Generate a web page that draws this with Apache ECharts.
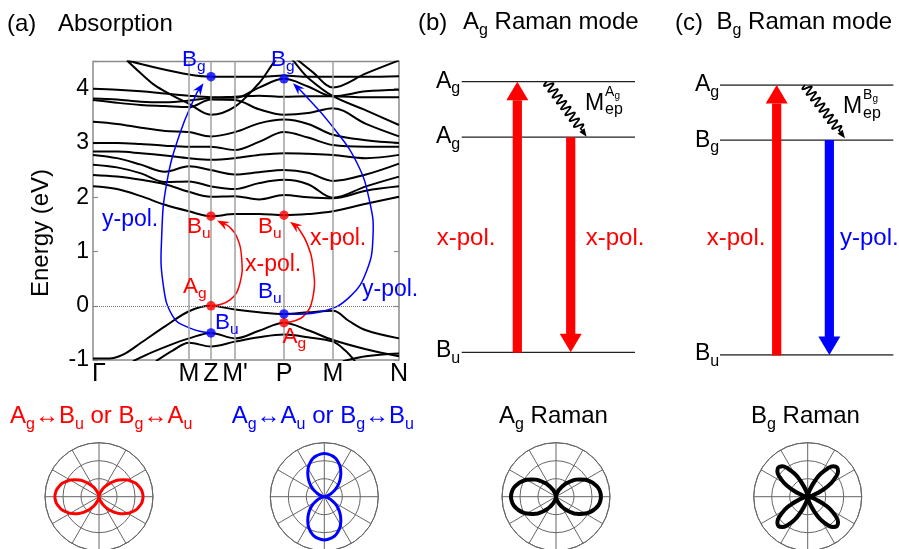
<!DOCTYPE html>
<html><head><meta charset="utf-8">
<script src="https://cdn.jsdelivr.net/npm/echarts@6/dist/echarts.min.js"></script>
<style>html,body{margin:0;padding:0;background:#fff}#c{width:899px;height:549px}</style>
</head><body><div id="c"></div>
<script>
const FONT = '"Liberation Sans", Arial, "DejaVu Sans", sans-serif';
const RED = '#ff0000', BLUE = '#0000ff';

// ---- (a) band structure : k-path ----
const kPoints = [0, 96, 118, 142, 191, 240, 306];
const kLabels = ['Γ', 'M', 'Z', "M'", 'P', 'M', 'N'];
const energyTicks = [-1, 0, 1, 2, 3, 4];

// valence bands [k, E(eV)]
const bandV1 = [[0,-0.97],[16,-0.97],[30,-0.9],[48,-0.68],[72,-0.38],[96,-0.1],[118,0],[142,-0.07],[166,-0.12],[191,-0.15],[215,-0.12],[240,-0.09],[256,-0.28],[273,-0.45],[306,-0.6]];
const bandV2 = [[40,-1.02],[60,-0.85],[80,-0.7],[96,-0.6],[118,-0.5],[142,-0.6],[166,-0.46],[191,-0.31],[215,-0.45],[240,-0.63],[273,-0.8],[306,-0.93]];
const bandV3 = [[63,-1.02],[80,-0.82],[96,-0.68],[118,-0.75],[142,-0.66],[166,-0.58],[191,-0.53],[215,-0.58],[240,-0.66],[252,-0.82],[262,-1.02]];
const bandV4 = [[250,-1.02],[273,-0.93],[306,-0.88]];
// conduction bands
const bandC1 = [[0,2.2],[24,2.15],[48,2.02],[72,1.86],[96,1.74],[118,1.65],[142,1.69],[166,1.69],[191,1.67],[215,1.69],[240,1.74],[273,1.88],[306,2.01]];
const bandC2 = [[0,2.41],[24,2.38],[48,2.32],[72,2.24],[96,2.1],[118,2.01],[142,2.02],[166,1.96],[191,2.04],[215,2.0],[240,1.98],[273,2.12],[306,2.2]];
const bandC3 = [[0,2.6],[24,2.55],[48,2.44],[72,2.28],[96,2.29],[118,2.2],[142,2.15],[166,2.26],[191,2.32],[215,2.24],[240,1.99],[273,2.2],[306,2.38]];
const bandC4 = [[0,2.78],[24,2.72],[48,2.6],[72,2.47],[96,2.57],[118,2.5],[142,2.42],[166,2.46],[191,2.5],[215,2.45],[240,2.3],[273,2.42],[306,2.62]];
const bandC5 = [[0,2.84],[24,2.84],[48,2.81],[72,2.77],[96,2.72],[118,2.69],[142,2.72],[166,2.78],[191,2.81],[215,2.8],[240,2.78],[273,2.72],[306,2.78]];
const bandC6 = [[0,3.0],[24,3.0],[48,2.98],[72,2.95],[96,2.93],[118,2.93],[142,2.87],[166,3.02],[191,3.2],[215,3.1],[240,2.96],[273,2.93],[306,2.93]];
const bandC7 = [[0,3.39],[24,3.35],[48,3.28],[72,3.22],[96,3.2],[118,3.12],[142,3.2],[166,3.36],[191,3.43],[215,3.35],[240,3.15],[273,3.05],[306,3.0]];
const bandC8 = [[0,3.79],[24,3.74],[48,3.7],[72,3.68],[96,3.66],[118,3.8],[142,3.79],[166,3.62],[191,3.52],[215,3.55],[240,3.64],[273,3.35],[306,3.12]];
const bandC9 = [[0,3.82],[24,3.8],[48,3.76],[72,3.75],[96,3.78],[118,3.83],[142,3.85],[166,3.87],[191,3.85],[215,3.86],[240,3.86],[273,3.84],[306,3.84]];
const bandC10 = [[0,4.0],[24,3.98],[48,3.95],[72,3.91],[96,3.87],[118,3.84],[142,3.83],[166,4.02],[191,4.18],[215,4.04],[240,3.86],[273,3.95],[306,3.98]];
const bandC11 = [[34,4.52],[48,4.28],[62,4.06],[77,3.9],[96,3.72],[118,3.52],[142,3.67],[166,4.1],[191,4.62],[215,4.2],[240,3.86],[273,3.6],[306,3.33]];
const bandC12 = [[34,4.52],[60,4.4],[96,4.26],[118,4.22],[142,4.22],[166,4.22],[191,4.24],[215,4.22],[240,4.22],[273,4.22],[306,4.23]];
const bandC13 = [[200,4.6],[220,4.3],[240,4.02],[273,4.28],[306,4.52]];
const bandList = [bandV1,bandV2,bandV3,bandV4,bandC1,bandC2,bandC3,bandC4,bandC5,bandC6,bandC7,bandC8,bandC9,bandC10,bandC11,bandC12,bandC13];

// marked states
const redStates = [[118,0],[118,1.65],[191,1.67],[191,-0.31]];
const blueStates = [[118,-0.5],[118,4.22],[191,4.18],[191,-0.15]];

// transition arrows (k, E)
const arrowRedZ = [[118,0],[137,0.11],[147,0.42],[148.5,0.91],[143.5,1.28],[136,1.46],[124,1.57]];
const arrowRedP = [[191,-0.31],[210,-0.2],[220,0.17],[220,0.72],[214,1.15],[205,1.44],[197,1.55]];
const arrowBlueZ = [[118,-0.5],[97,-0.41],[80,-0.2],[70,0.42],[68.7,1.28],[73.7,2.26],[87,3.18],[103.7,3.92],[110.5,4.1]];
const arrowBlueP = [[191,-0.15],[230,-0.1],[257,0.17],[274,0.66],[280,1.28],[277,1.89],[264,2.63],[237,3.36],[210,3.92],[200,4.1]];

// ---- (b),(c) level diagrams (relative energy) ----
const levelsB = [0, 0.795, 1];
const levelsC = [0, 0.796, 1];
const excitB = [0.321, 0, 1];
const emitB = [0.629, 0.795, 0];
const excitC = [0.327, 0, 1];
const emitC = [0.631, 0.796, 0];
const phononB = [0.49, 1, 0.721, 0.797];
const phononC = [0.49, 1, 0.721, 0.803];

// ---- polar patterns ----
const polarAngles = [0,5,10,15,20,25,30,35,40,45,50,55,60,65,70,75,80,85,90,95,100,105,110,115,120,125,130,135,140,145,150,155,160,165,170,175,180,185,190,195,200,205,210,215,220,225,230,235,240,245,250,255,260,265,270,275,280,285,290,295,300,305,310,315,320,325,330,335,340,345,350,355,360];
const polarRed = [0.98,0.97,0.95,0.91,0.87,0.80,0.74,0.66,0.58,0.49,0.40,0.32,0.25,0.18,0.11,0.07,0.03,0.01,0,
 0.01,0.03,0.07,0.11,0.18,0.25,0.32,0.40,0.49,0.58,0.66,0.74,0.80,0.87,0.91,0.95,0.97,0.98,
 0.97,0.95,0.91,0.87,0.80,0.74,0.66,0.58,0.49,0.40,0.32,0.25,0.18,0.11,0.07,0.03,0.01,0,
 0.01,0.03,0.07,0.11,0.18,0.25,0.32,0.40,0.49,0.58,0.66,0.74,0.80,0.87,0.91,0.95,0.97,0.98];
const polarBlue = [0,0.01,0.03,0.06,0.11,0.17,0.24,0.32,0.40,0.48,0.56,0.64,0.72,0.79,0.85,0.90,0.93,0.95,0.96,
 0.95,0.93,0.90,0.85,0.79,0.72,0.64,0.56,0.48,0.40,0.32,0.24,0.17,0.11,0.06,0.03,0.01,0,
 0.01,0.03,0.06,0.11,0.17,0.24,0.32,0.40,0.48,0.56,0.64,0.72,0.79,0.85,0.90,0.93,0.95,0.96,
 0.95,0.93,0.90,0.85,0.79,0.72,0.64,0.56,0.48,0.40,0.32,0.24,0.17,0.11,0.06,0.03,0.01,0];
const polarAg = [1,0.99,0.97,0.93,0.88,0.82,0.75,0.67,0.59,0.50,0.41,0.33,0.25,0.18,0.12,0.07,0.03,0.01,0,
 0.01,0.03,0.07,0.12,0.18,0.25,0.33,0.41,0.50,0.59,0.67,0.75,0.82,0.88,0.93,0.97,0.99,1,
 0.99,0.97,0.93,0.88,0.82,0.75,0.67,0.59,0.50,0.41,0.33,0.25,0.18,0.12,0.07,0.03,0.01,0,
 0.01,0.03,0.07,0.12,0.18,0.25,0.33,0.41,0.50,0.59,0.67,0.75,0.82,0.88,0.93,0.97,0.99,1];
const polarBg = [0,0.005,0.04,0.12,0.24,0.41,0.6,0.76,0.88,0.92,0.88,0.76,0.6,0.41,0.24,0.12,0.04,0.005,0,
 0.005,0.04,0.12,0.24,0.41,0.6,0.76,0.88,0.92,0.88,0.76,0.6,0.41,0.24,0.12,0.04,0.005,0,
 0.005,0.04,0.12,0.24,0.41,0.6,0.76,0.88,0.92,0.88,0.76,0.6,0.41,0.24,0.12,0.04,0.005,0,
 0.005,0.04,0.12,0.24,0.41,0.6,0.76,0.88,0.92,0.88,0.76,0.6,0.41,0.24,0.12,0.04,0.005,0];

// ---------------- helpers ----------------
const mctx = document.createElement('canvas').getContext('2d');
function tw(t, fs) { mctx.font = fs + 'px ' + FONT; return mctx.measureText(t).width; }
function txt(x, base, t, color, fs) {
  return {type:'text', silent:true, x:x, y: base - 0.35*fs, z:10,
    style:{text:t, fill:color, font: fs+'px '+FONT, align:'left', verticalAlign:'middle', textAlign:'left', textVerticalAlign:'middle'}};
}
// '_x' marks a one-character subscript
function label(x, base, s, color, fs, subFs, subDy) {
  subFs = subFs || Math.round(fs*0.68); subDy = (subDy === undefined) ? fs*0.2 : subDy;
  const els = []; let cx = x; let buf = '';
  const flush = () => { if (buf) { els.push(txt(cx, base, buf, color, fs)); cx += tw(buf, fs); buf = ''; } };
  for (let i = 0; i < s.length; i++) {
    if (s[i] === '_' && i+1 < s.length) { flush(); const c = s[i+1]; els.push(txt(cx, base+subDy, c, color, subFs)); cx += tw(c, subFs); i++; }
    else buf += s[i];
  }
  flush();
  return els;
}

function curveArrow(pts, color) {
  return function (params, api) {
    const p = pts.map(d => api.coord(d));
    const n = p.length, tip = p[n-1], prev = p[n-2];
    let dx = tip[0]-prev[0], dy = tip[1]-prev[1]; const L = Math.hypot(dx, dy); dx /= L; dy /= L;
    const len = 12, hw = 4.5, notch = 8, nx = -dy, ny = dx;
    const base = [tip[0]-dx*len, tip[1]-dy*len];
    const nb = [tip[0]-dx*notch, tip[1]-dy*notch];
    const head = [tip, [base[0]+nx*hw, base[1]+ny*hw], nb, [base[0]-nx*hw, base[1]-ny*hw]];
    return {type:'group', children:[
      {type:'polyline', shape:{points: p.slice(0, n-1).concat([nb]), smooth:0.45}, style:{stroke:color, lineWidth:1.5, fill:null}},
      {type:'polygon', shape:{points: head}, style:{fill:color}}
    ]};
  };
}
function thickArrow(params, api) {
  const color = api.visual('color');
  const x = api.value(0), a = api.coord([x, api.value(1)]), b = api.coord([x, api.value(2)]);
  const dir = Math.sign(b[1]-a[1]);
  const sw = 4.6, hw = 11, hl = 18.5;
  const baseY = b[1] - dir*hl;
  return {type:'group', children:[
    {type:'rect', shape:{x:a[0]-sw, y:Math.min(a[1], baseY), width:2*sw, height:Math.abs(baseY-a[1])+0.5}, style:{fill:color}},
    {type:'polygon', shape:{points:[[b[0], b[1]], [b[0]-hw, baseY], [b[0]+hw, baseY]]}, style:{fill:color}}
  ]};
}
function wavyArrow(params, api) {
  const a = api.coord([api.value(0), api.value(1)]), b = api.coord([api.value(2), api.value(3)]);
  const dx = b[0]-a[0], dy = b[1]-a[1], L = Math.hypot(dx, dy), ux = dx/L, uy = dy/L, nx = -uy, ny = ux;
  const headLen = 8, hw = 3.2, waveLen = L - headLen - 2, periods = 8, amp = 4.5;
  const pts = [];
  for (let i = 0; i <= 240; i++) {
    const t = i/240*waveLen;
    const off = amp*Math.sin(2*Math.PI*periods*t/waveLen);
    pts.push([a[0]+ux*t+nx*off, a[1]+uy*t+ny*off]);
  }
  pts.push([b[0]-ux*headLen, b[1]-uy*headLen]);
  const bx = b[0]-ux*headLen, by = b[1]-uy*headLen;
  return {type:'group', children:[
    {type:'polyline', shape:{points:pts}, style:{stroke:'#000', lineWidth:1.8, fill:null}},
    {type:'polygon', shape:{points:[[b[0],b[1]],[bx+nx*hw,by+ny*hw],[bx-nx*hw,by-ny*hw]]}, style:{fill:'#000'}}
  ]};
}

// ---------------- series ----------------
const series = [];
bandList.forEach((d, i) => {
  const s = {type:'line', xAxisIndex:0, yAxisIndex:0, data:d, smooth:0.35, showSymbol:false, symbol:'none',
    lineStyle:{color:'#000', width:2}, z:2, silent:true, animation:false};
  if (i === 0) {
    s.markLine = {silent:true, symbol:['none','none'], label:{show:false}, animation:false,
      lineStyle:{color:'#a0a0a0', width:1.5, type:'solid'},
      data: kPoints.slice(1, -1).map(k => ({xAxis:k})).concat([{yAxis:0, lineStyle:{type:'dotted', color:'#777', width:1}}])};
  }
  series.push(s);
});
[[arrowRedZ, RED], [arrowRedP, RED], [arrowBlueZ, BLUE], [arrowBlueP, BLUE]].forEach(([pts, c]) => {
  series.push({type:'custom', xAxisIndex:0, yAxisIndex:0, data:[pts[0]], renderItem: curveArrow(pts, c), z:4, silent:true});
});
series.push({type:'scatter', xAxisIndex:0, yAxisIndex:0, data:redStates, symbolSize:9.5, itemStyle:{color:RED}, z:5, silent:true});
series.push({type:'scatter', xAxisIndex:0, yAxisIndex:0, data:blueStates, symbolSize:9.5, itemStyle:{color:BLUE}, z:5, silent:true});

// level diagrams
[[levelsB, 1, 2], [levelsC, 2, 3]].forEach(([lv, xi, yi]) => {
  lv.forEach(v => series.push({type:'line', xAxisIndex:xi, yAxisIndex:yi, data:[[0, v], [1, v]], showSymbol:false, symbol:'none',
    lineStyle:{color:'#222', width:1.3}, silent:true, z:2}));
});
[[excitB, 1, 2, RED], [emitB, 1, 2, RED], [excitC, 2, 3, RED], [emitC, 2, 3, BLUE]].forEach(([d, xi, yi, c]) => {
  series.push({type:'custom', xAxisIndex:xi, yAxisIndex:yi, data:[d], renderItem:thickArrow, itemStyle:{color:c}, z:3, silent:true});
});
[[phononB, 1, 2], [phononC, 2, 3]].forEach(([d, xi, yi]) => {
  series.push({type:'custom', xAxisIndex:xi, yAxisIndex:yi, data:[d], renderItem:wavyArrow, z:3, silent:true});
});

// polar patterns
const polarCenters = [[99, 496.7], [324.3, 496.7], [556, 496.7], [807.7, 496.7]];
[[polarRed, RED, 3], [polarBlue, BLUE, 3], [polarAg, '#000', 4], [polarBg, '#000', 4]].forEach(([r, c, w], i) => {
  series.push({type:'line', coordinateSystem:'polar', polarIndex:i, data: r.map((v, j) => [v, polarAngles[j]]),
    smooth:true, showSymbol:false, symbol:'none', lineStyle:{color:c, width:w}, z:3, silent:true});
});

// ---------------- texts ----------------
let g = [];
g = g.concat(label(7, 32.5, '(a)', '#000', 24));
g = g.concat(label(58, 33, 'Absorption', '#000', 24));
g = g.concat(label(418, 31.5, '(b)', '#000', 24));
g = g.concat(label(463, 31, 'A_g Raman mode', '#000', 24, 16, 5));
g = g.concat(label(675, 31.5, '(c)', '#000', 24));
g = g.concat(label(716.5, 31, 'B_g Raman mode', '#000', 24, 16, 5));
g.push({type:'text', silent:true, x:41, y:233, rotation:Math.PI/2,
  style:{text:'Energy (eV)', fill:'#000', font:'24px '+FONT, align:'center', verticalAlign:'middle', textAlign:'center', textVerticalAlign:'middle'}});
// band-plot labels
const stateFs = 22.5, stateSub = 15.5, stateDy = 4.5;
[[182, 68, 'B_g', BLUE], [271, 68, 'B_g', BLUE], [187, 235, 'B_u', RED], [258, 235, 'B_u', RED],
 [183, 294.5, 'A_g', RED], [258, 300, 'B_u', BLUE], [215, 330.5, 'B_u', BLUE], [282.5, 345, 'A_g', RED]].forEach(([x, y, s, c]) => {
  g = g.concat(label(x, y, s, c, stateFs, stateSub, stateDy));
});
[[245, 273, 'x-pol.', RED], [310, 247, 'x-pol.', RED], [362, 298, 'y-pol.', BLUE], [102, 228, 'y-pol.', BLUE]].forEach(([x, y, s, c]) => {
  g = g.concat(label(x, y, s, c, 23));
});
// level labels
[[436, 89.3, 'A_g'], [436, 145, 'A_g'], [436, 359, 'B_u'], [695, 92.7, 'A_g'], [695, 148.3, 'B_g'], [695, 361.7, 'B_u']].forEach(([x, y, s]) => {
  g = g.concat(label(x, y, s, '#000', 23, 16, 5));
});
[[436.7, 246.7, 'x-pol.', RED], [585.7, 246.7, 'x-pol.', RED], [706.7, 246.7, 'x-pol.', RED], [840, 246.7, 'y-pol.', BLUE]].forEach(([x, y, s, c]) => {
  g = g.concat(label(x, y, s, c, 24));
});
// electron-phonon matrix element labels
g.push(txt(585, 111.7, 'M', '#000', 23), txt(605, 115.5, 'ep', '#000', 16), txt(605, 96.7, 'A', '#000', 14), txt(614.5, 99.5, 'g', '#000', 10));
g.push(txt(843, 115, 'M', '#000', 23), txt(863, 118.7, 'ep', '#000', 16), txt(863, 100, 'B', '#000', 14), txt(872.5, 102.5, 'g', '#000', 10));
// selection-rule captions
g = g.concat(label(10, 425, 'A_g↔B_u or B_g↔A_u', RED, 24, 16, 5));
g = g.concat(label(231.7, 425, 'A_g↔A_u or B_g↔B_u', BLUE, 24, 16, 5));
g = g.concat(label(499, 425, 'A_g Raman', '#000', 24, 16, 5));
g = g.concat(label(751, 425, 'B_g Raman', '#000', 24, 16, 5));

// ---------------- option ----------------
const hiddenAxis = (gi, extra) => Object.assign({gridIndex:gi, type:'value', min:0, max:1, show:false}, extra || {});
const option = {
  animation:false,
  backgroundColor:'#fff',
  textStyle:{fontFamily:FONT},
  grid:[
    {left:93, top:61.5, width:306, height:298.6, show:true, borderColor:'#8c8c8c', borderWidth:1.5, backgroundColor:'transparent'},
    {left:461.7, top:81.7, width:173.3, height:270.6},
    {left:720, top:85, width:173.3, height:270}
  ],
  xAxis:[
    {gridIndex:0, type:'value', min:0, max:306, axisLine:{show:false}, axisTick:{show:false}, splitLine:{show:false},
      axisLabel:{show:true, customValues:kPoints, fontSize:25, color:'#000', fontFamily:FONT, margin:2,
        formatter: v => { const i = kPoints.indexOf(v); if (i < 0) return ''; return i === 0 ? '{g|' + kLabels[i] + '}' : kLabels[i]; },
        rich:{g:{fontSize:25, fontFamily:FONT, color:'#000', padding:[0,0,0,12]}}}},
    hiddenAxis(1), hiddenAxis(2)
  ],
  yAxis:[
    {gridIndex:0, type:'value', min:-1, max:4.5, interval:1, axisLine:{show:false},
      axisTick:{show:true, inside:true, length:5, lineStyle:{color:'#8c8c8c', width:1.2}}, splitLine:{show:false},
      axisLabel:{fontSize:23, color:'#000', fontFamily:FONT, margin:4, formatter: v => energyTicks.indexOf(v) >= 0 ? String(v) : ''}},
    {gridIndex:0, type:'value', position:'right', min:-1, max:4.5, interval:1, axisLine:{show:false},
      axisTick:{show:true, inside:true, length:5, lineStyle:{color:'#8c8c8c', width:1.2}}, splitLine:{show:false}, axisLabel:{show:false}},
    hiddenAxis(1), hiddenAxis(2)
  ],
  polar: polarCenters.map(c => ({center:c, radius:54})),
  angleAxis: polarCenters.map((c, i) => ({polarIndex:i, type:'value', min:0, max:360, interval:30, startAngle:0, clockwise:false,
    axisLine:{lineStyle:{color:'#666', width:1}}, axisTick:{show:false}, axisLabel:{show:false},
    splitLine:{show:true, lineStyle:{color:'#666', width:1}}})),
  radiusAxis: polarCenters.map((c, i) => ({polarIndex:i, type:'value', min:0, max:1.2, interval:0.4,
    axisLine:{show:false}, axisTick:{show:false}, axisLabel:{show:false},
    splitLine:{show:true, lineStyle:{color:'#666', width:1}}})),
  graphic:{elements:g},
  series:series
};
const chart = echarts.init(document.getElementById('c'));
chart.setOption(option);
</script></body></html>
